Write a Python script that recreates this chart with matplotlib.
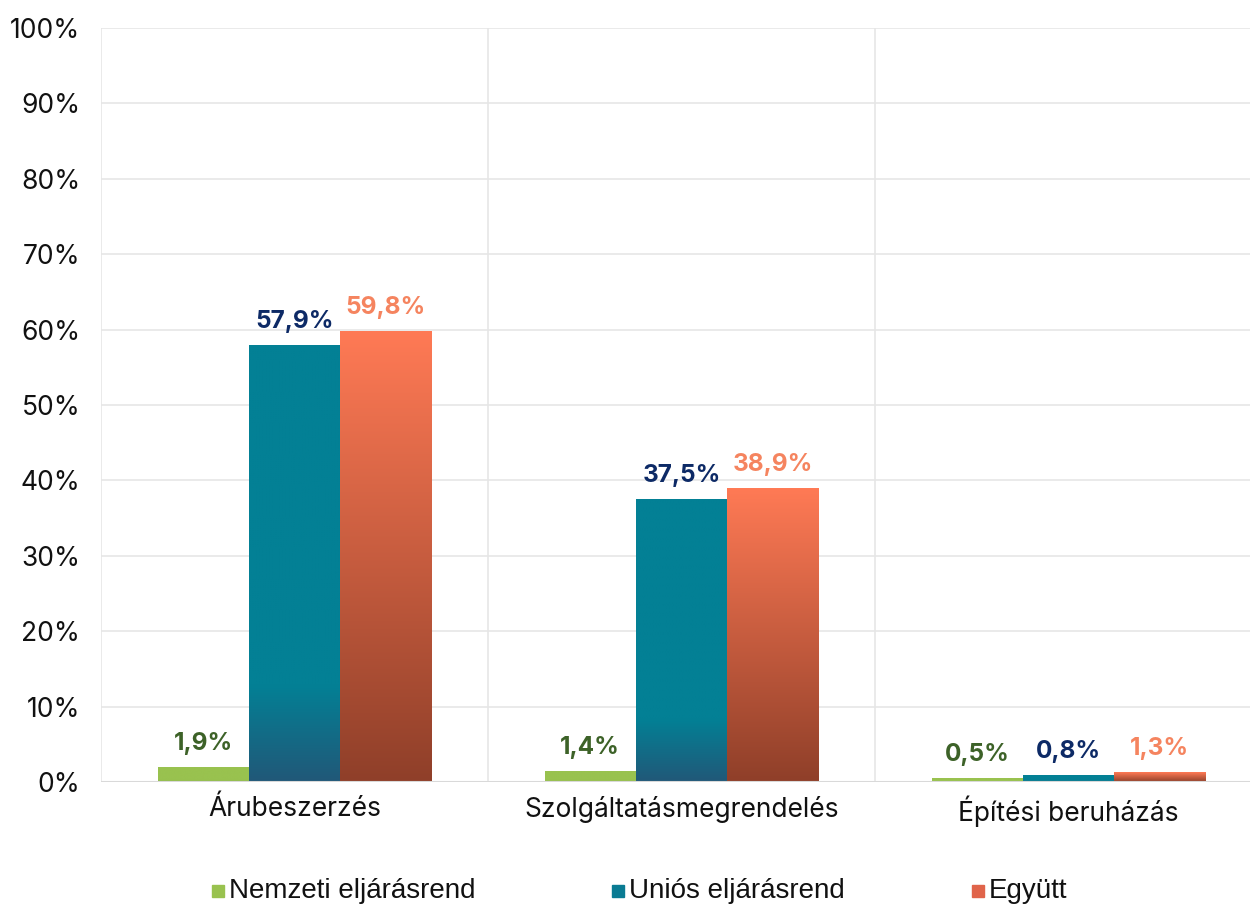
import numpy as np
import matplotlib.pyplot as plt
from matplotlib.colors import LinearSegmentedColormap
from matplotlib.patches import Rectangle

categories = ["Árubeszerzés", "Szolgáltatásmegrendelés", "Építési beruházás"]
series_names = ["Nemzeti eljárásrend", "Uniós eljárásrend", "Együtt"]
nemzeti = [1.9, 1.4, 0.5]
unios = [57.9, 37.5, 0.8]
egyutt = [59.8, 38.9, 1.3]
yticks = list(range(0, 101, 10))

values = [nemzeti, unios, egyutt]
cmaps = [
    LinearSegmentedColormap.from_list("g", [(0, "#8DB548"), (0.15, "#99C24F"), (1, "#99C24F")]),
    LinearSegmentedColormap.from_list("b", [(0, "#215878"), (0.22, "#038095"), (1, "#038095")]),
    LinearSegmentedColormap.from_list("o", [(0, "#8F3F29"), (1, "#FF7A55")]),
]
label_colors = ["#3D6228", "#0D2A66", "#F5845F"]
legend_colors = ["#99C24F", "#0A7B93", "#E0644A"]

plt.rcParams['font.family'] = ['Inter', 'DejaVu Sans']

fig = plt.figure(figsize=(12.5, 9.05), dpi=100)
ax = fig.add_axes([101 / 1250, 1 - 782 / 905, 1161 / 1250, 754 / 905])

x = np.arange(len(categories))
width = 0.236
offsets = [-width, 0, width]

grad = np.linspace(0, 1, 256).reshape(-1, 1)
for vals, cmap, lc, off in zip(values, cmaps, label_colors, offsets):
    for xi, v in zip(x, vals):
        x0 = xi + off - width / 2
        ax.imshow(grad, cmap=cmap, origin="lower", aspect="auto",
                  extent=[x0, x0 + width, 0, v], zorder=3, interpolation="bilinear")
        ax.annotate(f"{v:.1f}%".replace(".", ","), (xi + off, v),
                    xytext=(0, 9), textcoords="offset points",
                    ha="center", va="bottom", fontsize=17.5, fontweight="bold",
                    color=lc, zorder=4)

ax.set_xlim(-0.5, 2.5)
ax.set_ylim(0, 100)
ax.set_yticks(yticks)
ax.set_yticklabels([f"{t}%" for t in yticks])
ax.set_xticks(x)
ax.set_xticklabels(categories)
ax.tick_params(axis="y", length=0, pad=15, labelsize=19, colors="#111111")
ax.tick_params(axis="x", length=0, pad=10, labelsize=19, colors="#111111")

for t in yticks[1:]:
    ax.axhline(t, color="#E6E6E6", lw=1.2, zorder=1)
for b in [-0.5, 0.5, 1.5]:
    ax.axvline(b, color="#E6E6E6", lw=1.2, zorder=1)
ax.axhline(0, color="#D9D9D9", lw=1.5, zorder=5)
for s in ax.spines.values():
    s.set_visible(False)

# legend at bottom
leg_x = [212, 612, 972]
for lx, name, col in zip(leg_x, series_names, legend_colors):
    fig.patches.append(Rectangle((lx / 1250, 1 - 897 / 905), 12 / 1250, 12 / 905,
                                 transform=fig.transFigure, color=col))
    fig.text((lx + 17) / 1250, 1 - 891 / 905, name, fontsize=20, va="center",
             ha="left", family=["Liberation Sans", "DejaVu Sans"], color="#111111")

fig.savefig("out.png", dpi=100)
